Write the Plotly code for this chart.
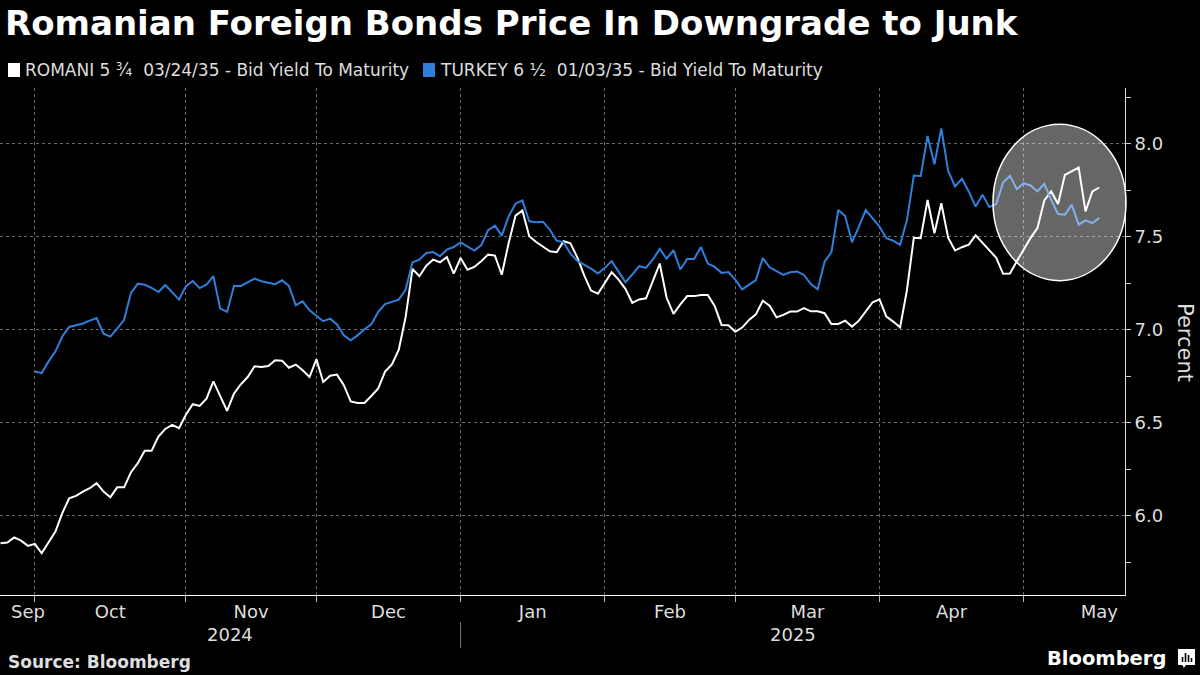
import pandas as pd
import plotly.graph_objects as go

# ---------------- data ----------------
START_DATE = "2024-09-24"
END_DATE = "2025-05-16"
MARKET_HOLIDAYS = ["2024-10-14", "2024-11-11", "2024-11-28", "2024-12-25",
                   "2025-01-01", "2025-01-20", "2025-02-17", "2025-04-18"]

ROMANI_YIELD = [
    5.853, 5.857, 5.885, 5.867, 5.839, 5.850, 5.799, 5.858, 5.916, 6.015,
    6.095, 6.108, 6.131, 6.149, 6.176, 6.131, 6.101, 6.154, 6.154, 6.235,
    6.284, 6.350, 6.350, 6.427, 6.468, 6.490, 6.472, 6.544, 6.601, 6.592,
    6.631, 6.724, 6.649, 6.565, 6.658, 6.708, 6.747, 6.805, 6.801, 6.806,
    6.837, 6.835, 6.797, 6.814, 6.783, 6.747, 6.842, 6.720, 6.754, 6.760,
    6.703, 6.616, 6.608, 6.608, 6.645, 6.685, 6.776, 6.815, 6.894, 7.070,
    7.328, 7.289, 7.346, 7.378, 7.364, 7.392, 7.303, 7.387, 7.324, 7.339,
    7.369, 7.405, 7.400, 7.297, 7.468, 7.615, 7.643, 7.504, 7.473, 7.450,
    7.423, 7.418, 7.477, 7.466, 7.390, 7.293, 7.212, 7.195, 7.254, 7.311,
    7.271, 7.221, 7.146, 7.164, 7.170, 7.263, 7.357, 7.173, 7.087, 7.138,
    7.182, 7.182, 7.188, 7.188, 7.129, 7.027, 7.025, 6.991, 7.013, 7.054,
    7.084, 7.157, 7.130, 7.068, 7.081, 7.099, 7.099, 7.117, 7.100, 7.100,
    7.090, 7.032, 7.032, 7.050, 7.018, 7.050, 7.099, 7.149, 7.165, 7.072,
    7.045, 7.014, 7.215, 7.496, 7.493, 7.699, 7.520, 7.681, 7.496, 7.427,
    7.445, 7.459, 7.509, 7.468, 7.429, 7.388, 7.302, 7.304, 7.370, 7.432,
    7.495, 7.548, 7.696, 7.745, 7.677, 7.834, 7.852, 7.873, 7.638, 7.745,
    7.766,
]

TURKEY_YIELD = [
    None, None, None, None, None, 6.777, 6.768, 6.831, 6.885, 6.965,
    7.016, 7.025, 7.035, 7.050, 7.064, 6.980, 6.964, 7.007, 7.055, 7.199,
    7.249, 7.243, 7.226, 7.204, 7.242, 7.202, 7.163, 7.235, 7.263, 7.225,
    7.244, 7.289, 7.115, 7.097, 7.237, 7.237, 7.258, 7.276, 7.262, 7.253,
    7.246, 7.267, 7.237, 7.133, 7.154, 7.106, 7.075, 7.047, 7.061, 7.030,
    6.971, 6.944, 6.971, 7.004, 7.030, 7.097, 7.139, 7.149, 7.163, 7.217,
    7.364, 7.378, 7.414, 7.419, 7.396, 7.432, 7.446, 7.471, 7.450, 7.427,
    7.455, 7.536, 7.561, 7.507, 7.611, 7.679, 7.697, 7.584, 7.579, 7.582,
    7.539, 7.480, 7.471, 7.410, 7.371, 7.352, 7.330, 7.304, 7.334, 7.370,
    7.311, 7.257, 7.298, 7.343, 7.334, 7.379, 7.436, 7.384, 7.429, 7.325,
    7.382, 7.382, 7.446, 7.357, 7.339, 7.307, 7.311, 7.271, 7.218, 7.245,
    7.268, 7.387, 7.337, 7.317, 7.296, 7.310, 7.314, 7.296, 7.247, 7.219,
    7.367, 7.418, 7.645, 7.613, 7.471, 7.556, 7.645, 7.600, 7.556, 7.493,
    7.480, 7.457, 7.591, 7.830, 7.828, 8.043, 7.891, 8.084, 7.855, 7.772,
    7.813, 7.745, 7.664, 7.727, 7.661, 7.677, 7.793, 7.829, 7.757, 7.789,
    7.777, 7.745, 7.786, 7.700, 7.623, 7.620, 7.673, 7.566, 7.589, 7.575,
    7.602,
]

ROMANI_NAME = "ROMANI 5 ¾  03/24/35 - Bid Yield To Maturity"
TURKEY_NAME = "TURKEY 6 ½  01/03/35 - Bid Yield To Maturity"
MONTH_LABELS = ["Sep", "Oct", "Nov", "Dec", "Jan", "Feb", "Mar", "Apr", "May"]
YEAR_LABELS = ["2024", "2025"]
Y_TICKS = [6.0, 6.5, 7.0, 7.5, 8.0]

TITLE = "Romanian Foreign Bonds Price In Downgrade to Junk"
SOURCE = "Source: Bloomberg"

# ---------------- styling ----------------
BG = "#000000"
WHITE = "#ffffff"
BLUE = "#2f7fdb"
TXT = "#dedede"
GRID = "#6a6a6a"
FONT = "DejaVu Sans"

PLOT_L, PLOT_R, PLOT_T, PLOT_B = 0, 1125, 88, 595
W, H = 1200, 675


def px(x):
    return (x - PLOT_L) / (PLOT_R - PLOT_L)


def py(y):
    return (PLOT_B - y) / (PLOT_B - PLOT_T)


# trading-day axis
axis_days = pd.bdate_range(START_DATE, "2025-05-30", freq="C", holidays=MARKET_HOLIDAYS)
dates = list(axis_days[axis_days <= pd.Timestamp(END_DATE)])
assert len(dates) == len(ROMANI_YIELD) == len(TURKEY_YIELD)


def at(i):
    """date located i trading-days after the first data point (fractional allowed)"""
    k = int(i // 1)
    frac = i - k
    if k < 0:
        return axis_days[0] + pd.Timedelta(days=i)
    return axis_days[k] + pd.Timedelta(days=frac)


# month starts (first trading day of each month inside the data)
month_start_idx = [i for i in range(1, len(dates)) if dates[i].month != dates[i - 1].month]
label_idx = [4.0]
for a, b in zip(month_start_idx[:-1], month_start_idx[1:]):
    label_idx.append((a + b) / 2)
label_idx.append(float(len(dates) - 1))

range_start = -0.07
range_end = 163.75
jan_idx = month_start_idx[3]

fig = go.Figure()
fig.add_trace(go.Scatter(x=dates, y=ROMANI_YIELD, mode="lines", name=ROMANI_NAME,
                         line=dict(color=WHITE, width=2), showlegend=False))
fig.add_trace(go.Scatter(x=dates, y=TURKEY_YIELD, mode="lines", name=TURKEY_NAME,
                         line=dict(color=BLUE, width=2), showlegend=False,
                         connectgaps=False))

fig.update_layout(
    width=W, height=H,
    paper_bgcolor=BG, plot_bgcolor=BG,
    margin=dict(l=PLOT_L, r=W - PLOT_R, t=PLOT_T, b=H - PLOT_B),
    font=dict(family=FONT, color=TXT, size=18),
    showlegend=False,
)

fig.update_xaxes(
    type="date",
    range=[at(range_start), at(range_end)],
    rangebreaks=[dict(bounds=["sat", "mon"]), dict(values=MARKET_HOLIDAYS)],
    tickmode="array",
    tickvals=[at(i) for i in label_idx],
    ticktext=MONTH_LABELS,
    ticks="",
    showgrid=False,
    showline=True, linecolor=WHITE, linewidth=1,
    zeroline=False,
    tickfont=dict(size=18, color=TXT, family=FONT),
    minor=dict(tickmode="array", tickvals=[dates[i] for i in month_start_idx],
               ticks="outside", ticklen=6, tickcolor="#bbbbbb", tickwidth=1,
               showgrid=True, gridcolor=GRID, griddash="dot", gridwidth=1),
)

fig.update_yaxes(
    side="right",
    range=[5.575, 8.301],
    tickmode="array", tickvals=Y_TICKS, tickformat=".1f",
    ticks="outside", ticklen=5, tickcolor="#cccccc",
    showline=True, linecolor="#dddddd", linewidth=1,
    showgrid=True, gridcolor=GRID, griddash="dot", gridwidth=1,
    zeroline=False,
    tickfont=dict(size=18, color=TXT, family=FONT),
    minor=dict(dtick=0.25, tick0=6.0, ticks="outside", ticklen=5,
               tickcolor="#cccccc", showgrid=False),
)

shapes = []
annotations = []

# highlight ellipse
shapes.append(dict(type="circle", xref="paper", yref="y", layer="above",
                   x0=px(993), x1=px(1126), y0=7.265, y1=8.106,
                   fillcolor="rgba(255,255,255,0.40)",
                   line=dict(color=WHITE, width=1.5)))

# title
annotations.append(dict(text="<b>" + TITLE + "</b>", xref="paper", yref="paper",
                        x=px(3), y=py(23), xanchor="left", yanchor="middle",
                        showarrow=False, font=dict(size=34, color=WHITE, family=FONT)))

# legend (squares + text)
for sx, tx, col, name in [(8, 23, WHITE, ROMANI_NAME), (423, 438, BLUE, TURKEY_NAME)]:
    shapes.append(dict(type="rect", xref="paper", yref="paper",
                       x0=px(sx), x1=px(sx + 12), y0=py(77), y1=py(63),
                       fillcolor=col, line=dict(width=0)))
    annotations.append(dict(text=name, xref="paper", yref="paper",
                            x=px(tx), y=py(70), xanchor="left", yanchor="middle",
                            showarrow=False, font=dict(size=17, color=TXT, family=FONT)))

# year labels + separator
year_pos = [(range_start + jan_idx) / 2, (jan_idx + range_end) / 2]
for lab, i in zip(YEAR_LABELS, year_pos):
    annotations.append(dict(text=lab, xref="x", yref="paper", x=at(i), y=py(634),
                            xanchor="center", yanchor="middle", showarrow=False,
                            font=dict(size=18, color=TXT, family=FONT)))
shapes.append(dict(type="line", xref="x", yref="paper",
                   x0=dates[jan_idx], x1=dates[jan_idx], y0=py(622), y1=py(648),
                   line=dict(color="#777777", width=1)))

# y-axis title
annotations.append(dict(text="Percent", xref="paper", yref="paper",
                        x=px(1185), y=py(342), textangle=90,
                        xanchor="center", yanchor="middle", showarrow=False,
                        font=dict(size=21, color=TXT, family=FONT)))

# source + logo
annotations.append(dict(text="<b>" + SOURCE + "</b>", xref="paper", yref="paper",
                        x=px(6), y=py(662), xanchor="left", yanchor="middle",
                        showarrow=False, font=dict(size=17, color=TXT, family=FONT)))
annotations.append(dict(text="<b>Bloomberg</b>", xref="paper", yref="paper",
                        x=px(1168), y=py(658), xanchor="right", yanchor="middle",
                        showarrow=False, font=dict(size=19.5, color=WHITE, family=FONT)))
shapes.append(dict(type="rect", xref="paper", yref="paper",
                   x0=px(1178), x1=px(1195), y0=py(665), y1=py(649),
                   fillcolor=WHITE, line=dict(width=0)))
shapes.append(dict(type="path", xref="paper", yref="paper",
                   path=f"M {px(1182)},{py(664.5)} L {px(1186)},{py(664.5)} L {px(1184)},{py(668)} Z",
                   fillcolor=WHITE, line=dict(width=0)))
for bx, top in [(1182.5, 657), (1185.5, 653), (1188.5, 655), (1191.5, 658)]:
    shapes.append(dict(type="line", xref="paper", yref="paper",
                       x0=px(bx), x1=px(bx), y0=py(662), y1=py(top),
                       line=dict(color=BG, width=1.6)))

fig.update_layout(shapes=shapes, annotations=annotations)
fig.write_html(
    "out.html",
    config={"displayModeBar": False},
    post_script="document.body.style.margin='0px';document.body.style.padding='0px';"
                "document.body.style.background='#000';"
                "document.documentElement.style.overflow='hidden';",
)
